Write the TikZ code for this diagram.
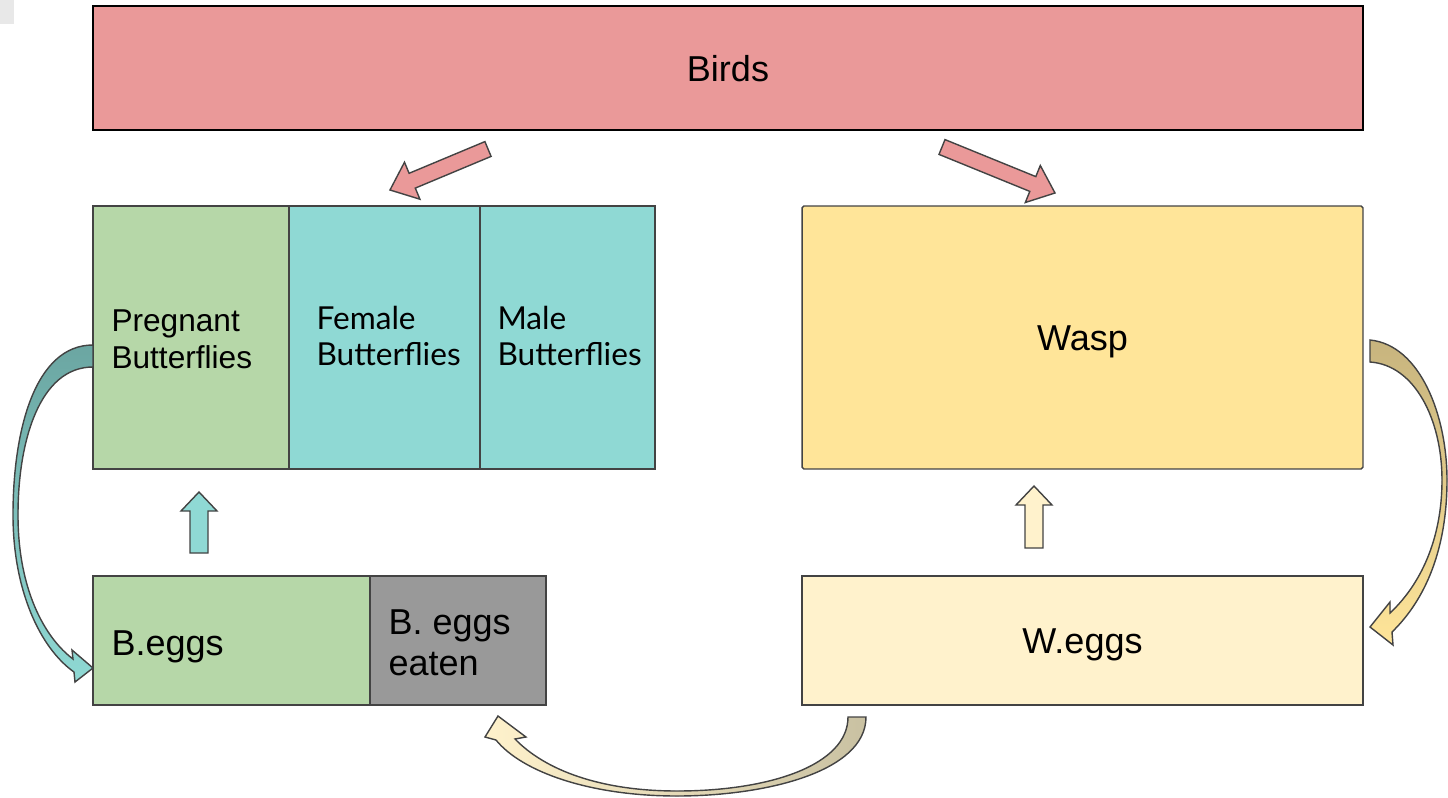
\documentclass[tikz,border=0pt]{standalone}
\usepackage{fontspec}
\setmainfont{Liberation Sans}
\newfontfamily\latofont{Lato}
\definecolor{birdred}{HTML}{EA9999}
\definecolor{bgreen}{HTML}{B6D7A8}
\definecolor{bteal}{HTML}{8FD9D4}
\definecolor{darkteal}{HTML}{6BA6A2}
\definecolor{wyellow}{HTML}{FFE599}
\definecolor{weggs}{HTML}{FFF2CC}
\definecolor{eatengray}{HTML}{999999}
\definecolor{khaki}{HTML}{C7B47E}
\definecolor{khakigray}{HTML}{C9C1A2}
\definecolor{edge}{HTML}{434343}
\definecolor{cornergray}{HTML}{E8E8E8}
\tikzset{
  box/.style={draw=edge, line width=0.8pt, inner sep=0pt},
  bigtext/.style={font=\fontsize{20.5}{23.5}\selectfont},
  captext/.style={bigtext, text height=14.8pt, text depth=0pt},
  smalltext/.style={font=\fontsize{18}{21}\selectfont},
  latotext/.style={font=\latofont\fontsize{18}{21}\selectfont},
  fatarrow/.style={draw=edge, line width=0.8pt, line join=miter},
}
\begin{document}
\begin{tikzpicture}[x=0.02cm,y=-0.02cm]
    \useasboundingbox (0,0) rectangle (1448,798);
    \fill[cornergray] (0,0) rectangle (14,24);
    % predator on top
    \node[box, draw=black, line width=1pt, fill=birdred, minimum width=25.4cm, minimum height=2.48cm, captext] (birds) at (728,68) {Birds};
    % butterflies
    \node[box, fill=bgreen, minimum width=3.92cm, minimum height=5.26cm] (pregnant) at (191,337.5) {};
    \node[box, fill=bteal, minimum width=3.82cm, minimum height=5.26cm] (female) at (384.5,337.5) {};
    \node[box, fill=bteal, minimum width=3.5cm, minimum height=5.26cm] (male) at (567.5,337.5) {};
    \node[anchor=west, align=left, smalltext] (pregnanttxt) at ([xshift=0.26cm, yshift=-0.04cm]pregnant.west) {Pregnant\\Butterflies};
    \node[anchor=west, align=left, latotext] (femaletxt) at ([xshift=0.44cm, yshift=0.03cm]female.west) {Female\\Butterflies};
    \node[anchor=west, align=left, latotext] (maletxt) at ([xshift=0.24cm, yshift=0.03cm]male.west) {Male\\Butterflies};
    % wasp
    \node[box, fill=wyellow, rounded corners=1pt, minimum width=11.22cm, minimum height=5.26cm, captext] (wasp) at (1082.5,337.5) {Wasp};
    % eggs
    \node[box, fill=bgreen, minimum width=5.54cm, minimum height=2.58cm] (beggs) at (231.5,640.5) {};
    \node[box, fill=eatengray, minimum width=3.52cm, minimum height=2.58cm] (eaten) at (458,640.5) {};
    \node[anchor=west, bigtext] (beggstxt) at ([xshift=0.26cm, yshift=-0.13cm]beggs.west) {B.eggs};
    \node[anchor=west, align=left, bigtext] (eatentxt) at ([xshift=0.26cm, yshift=-0.05cm]eaten.west) {B. eggs\\eaten};
    \node[box, fill=weggs, minimum width=11.22cm, minimum height=2.58cm, captext] (weggsbox) at (1082.5,640.5) {W.eggs};
    % birds eat butterflies and wasps
    \filldraw[fatarrow, fill=birdred] (491.1,156.4) -- (415.3,188.1) -- (419.9,199.2) -- (390,190) -- (404.5,162.2) -- (409.1,173.3) -- (484.9,141.6) -- cycle;
    \filldraw[fatarrow, fill=birdred] (939,154.4) -- (1029.8,191.4) -- (1025.3,202.5) -- (1055,193) -- (1040.3,165.5) -- (1035.8,176.6) -- (945,139.6) -- cycle;
    % eggs hatch
    \filldraw[fatarrow, fill=bteal] (190,553) -- (190,511) -- (181,511) -- (199,492) -- (217,511) -- (208,511) -- (208,553) -- cycle;
    \filldraw[fatarrow, fill=weggs] (1025,548) -- (1025,505) -- (1016,505) -- (1034,486) -- (1052,505) -- (1043,505) -- (1043,548) -- cycle;
    % laying eggs
    \filldraw[fatarrow, top color=darkteal, bottom color=bteal] (93,345) .. controls (35,345) and (13,430) .. (13,515) .. controls (13,590) and (40,648) .. (74,672) -- (75,682) -- (93,668) -- (72,650) -- (73,659) .. controls (45,638) and (18,590) .. (18,515) .. controls (18,440) and (40,367) .. (93,367) -- cycle;
    \filldraw[fatarrow, top color=khaki, bottom color=wyellow] (1370,340) .. controls (1420,345) and (1447,415) .. (1447,480) .. controls (1447,550) and (1425,600) .. (1392,632) -- (1393,645) -- (1370,627) -- (1390,602) -- (1390,613) .. controls (1420,585) and (1442,540) .. (1442,480) .. controls (1442,420) and (1415,365) .. (1370,362) -- cycle;
    % wasp larvae eat butterfly eggs
    \filldraw[fatarrow, left color=weggs, right color=khakigray] (866,717) .. controls (866,772) and (765,796) .. (677,796) .. controls (590,796) and (522,772) .. (496,740) -- (485,737) -- (498,716) -- (526,737) -- (515,739) .. controls (545,770) and (600,791) .. (677,791) .. controls (770,791) and (848,765) .. (848,717) -- cycle;
\end{tikzpicture}
\end{document}
